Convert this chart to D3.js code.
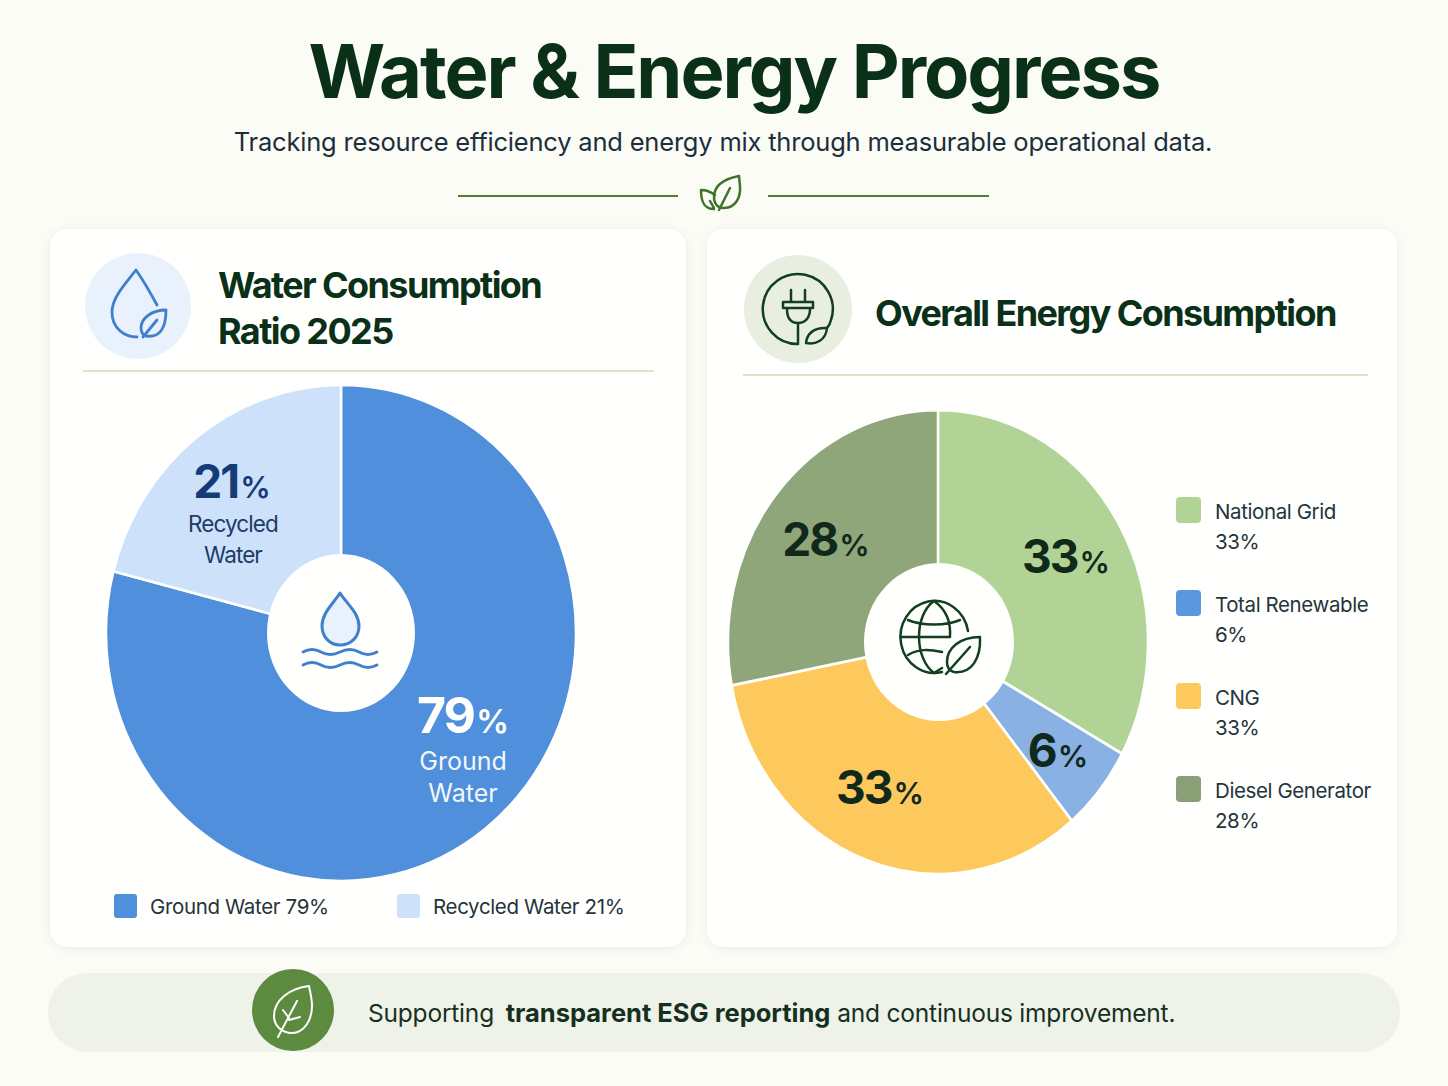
<!DOCTYPE html>
<html>
  <meta charset="utf-8" />
  <style>
    body { margin: 0; background: #fcfcf7; }
    svg { display: block; font-family: Inter, sans-serif; }
    .card { filter: drop-shadow(0 1px 5px rgba(60, 70, 50, 0.09)); }
  </style>
  <svg width="1448" height="1086"></svg>
  <script src="https://d3js.org/d3.v7.min.js"></script>
  <script>
    const titleText = "Water & Energy Progress";
    const subtitleText = "Tracking resource efficiency and energy mix through measurable operational data.";

    const waterCategories = ["Ground Water", "Recycled Water"];
    const waterValues = [79, 21];
    const waterColors = ["#4f8fdb", "#cde2fa"];
    const waterLegendColors = ["#4f8fdb", "#cde2fa"];

    const energyCategories = ["National Grid", "Total Renewable", "CNG", "Diesel Generator"];
    const energyValues = [33, 6, 33, 28];
    const energyColors = ["#b2d396", "#8ab1e4", "#fdc95d", "#8fa57a"];
    const energyLegendColors = ["#b2d396", "#5b97dd", "#fdc95d", "#8a9f75"];

    const darkGreen = "#0a3018";
    const midGreen = "#4f7f35";
    const svg = d3.select("svg");

    // background panels
    const panels = [
      { x: 50, y: 229, w: 636, h: 718 },
      { x: 707, y: 229, w: 690, h: 718 },
    ];
    svg.selectAll("rect.card").data(panels).join("rect")
      .attr("class", "card")
      .attr("x", d => d.x).attr("y", d => d.y)
      .attr("width", d => d.w).attr("height", d => d.h)
      .attr("rx", 17).attr("fill", "#fffffd");
    svg.append("rect").attr("x", 48).attr("y", 973).attr("width", 1352).attr("height", 79)
      .attr("rx", 39).attr("fill", "#eef2e8");

    // heading
    svg.append("text").attr("x", 734).attr("y", 98).attr("text-anchor", "middle")
      .attr("font-size", 74).attr("font-weight", 700).attr("letter-spacing", -2)
      .attr("fill", darkGreen).text(titleText);
    svg.append("text").attr("x", 723).attr("y", 151).attr("text-anchor", "middle")
      .attr("font-size", 25.5).attr("letter-spacing", -0.2).attr("fill", "#1c2e3a").text(subtitleText);

    function line(x1, x2, y, color, width) {
      svg.append("line").attr("x1", x1).attr("x2", x2).attr("y1", y).attr("y2", y)
        .attr("stroke", color).attr("stroke-width", width);
    }
    function icon(d, color, width, fill) {
      return svg.append("path").attr("d", d).attr("fill", fill || "none")
        .attr("stroke", color).attr("stroke-width", width)
        .attr("stroke-linecap", "round").attr("stroke-linejoin", "round");
    }
    line(458, 678, 196, midGreen, 2);
    line(768, 989, 196, midGreen, 2);
    icon("M739,176 C724,179 714,186 714,197 C714,204 718,208 724,208 C735,208 741,198 740,186 Z M730,188 L719,210", "#3f7327", 2.5);
    icon("M701,190 C701,200 703,209 714,209 M701,190 C707,190 711,192 715,195 M710,201 L714,208", "#3f7327", 2.5);

    // card headers
    svg.append("circle").attr("cx", 138).attr("cy", 306).attr("r", 53).attr("fill", "#e9f2fc");
    svg.append("circle").attr("cx", 798).attr("cy", 309).attr("r", 54).attr("fill", "#e8efe1");
    line(83, 654, 371, "#c8dfb8", 1.5);
    line(743, 1368, 375, "#c8dfb8", 1.5);

    const headings = [
      { text: "Water Consumption", x: 218, y: 298 },
      { text: "Ratio 2025", x: 218, y: 344 },
      { text: "Overall Energy Consumption", x: 875, y: 326 },
    ];
    svg.selectAll("text.head").data(headings).join("text")
      .attr("class", "head").attr("x", d => d.x).attr("y", d => d.y)
      .attr("font-size", 36).attr("font-weight", 700).attr("letter-spacing", -1.6)
      .attr("fill", darkGreen).text(d => d.text);

    const blue = "#3f7fcb";
    icon("M157,305 C150,292 143,280 136,270 C125,284 112,298 112,312 C112,328 124,337 137,337", blue, 2.8);
    icon("M166,310 C152,310 141,318 141,328 C141,332 143,335 146,336 C160,338 166,328 166,310 Z M143,337 L157,320", blue, 2.8);

    icon("M798,344 A35,35 0 1 1 831,320 C830,324 829,326 827,328", "#123f1f", 2.5);
    icon("M791,290 L791,302 M805,290 L805,302 M783,302 L813,302 L813,308 L783,308 Z M787,309 C787,318 791,323 798,323 C805,323 810,318 810,309 M798,323 L798,343", "#123f1f", 2.5);
    icon("M827,328 C815,327 807,333 806,343 C816,345 826,340 827,328 Z", "#123f1f", 2.5);

    // pies, slightly taller than wide like the reference
    function drawPie(cx, cy, rx, ry, values, colors) {
      const arcs = d3.pie().sort(null)(values);
      const arc = d3.arc().innerRadius(0).outerRadius(rx);
      const g = svg.append("g").attr("transform", `translate(${cx},${cy}) scale(1,${ry / rx})`);
      g.selectAll("path").data(arcs).join("path")
        .attr("d", arc).attr("fill", (d, i) => colors[i])
        .attr("stroke", "#fffffd").attr("stroke-width", 2.5);
    }
    drawPie(341, 633, 235, 248, waterValues, waterColors);
    drawPie(938, 642, 210, 232, energyValues, energyColors);
    svg.append("ellipse").attr("cx", 341).attr("cy", 633).attr("rx", 74).attr("ry", 79).attr("fill", "#fffffd");
    svg.append("ellipse").attr("cx", 939).attr("cy", 642).attr("rx", 75).attr("ry", 79).attr("fill", "#fffffd");

    // icons in the holes
    icon("M340,593 C333,604 322,613 322,626 C322,637 330,645 340,645 C351,645 359,637 359,626 C359,613 347,604 340,593 Z", blue, 3, "#e8f1fc");
    icon("M303,652 Q312,647 321,652 T340,652 T359,652 T377,652 M303,665 Q312,660 321,665 T340,665 T359,665 T377,665", blue, 2.8);

    const globe = "#123f1f";
    icon("M968,631 A34,36 0 1 0 942,672", globe, 2.5);
    icon("M934,601 C914,615 914,658 934,673 M934,601 C947,610 951,622 950,637 M901,637 L950,637 M908,620 C922,626 946,626 960,620 M908,655 C918,649 928,649 942,652 M934,673 L942,668", globe, 2.5);
    icon("M980,637 C960,637 947,648 947,662 C947,668 950,671 954,672 C972,674 981,658 980,637 Z M946,674 L970,647", globe, 2.5);

    // labels on the slices: big number with a smaller percent sign
    function pctLabel(x, y, value, color, size) {
      const t = svg.append("text").attr("x", x).attr("y", y).attr("text-anchor", "middle")
        .attr("fill", color).attr("font-weight", 700).attr("font-size", size);
      t.append("tspan").attr("letter-spacing", -2).text(value);
      t.append("tspan").attr("dx", 2).attr("font-size", size * 0.66).attr("font-weight", 600).text("%");
    }
    function smallLabel(x, y, text, color, size, spacing) {
      svg.append("text").attr("x", x).attr("y", y).attr("text-anchor", "middle")
        .attr("fill", color).attr("font-size", size).attr("letter-spacing", spacing).text(text);
    }
    pctLabel(232, 498, waterValues[1], "#143b78", 46);
    smallLabel(233, 532, "Recycled", "#1c3c68", 22.5, -0.9);
    smallLabel(233, 563, "Water", "#1c3c68", 22.5, -0.9);
    pctLabel(463, 733, waterValues[0], "#ffffff", 50);
    smallLabel(463, 770, "Ground", "#f2f7fd", 25, 0);
    smallLabel(463, 802, "Water", "#f2f7fd", 25, 0);

    const energyLabelPos = [[1066, 573], [1058, 767], [880, 804], [826, 556]];
    energyValues.forEach((v, i) => {
      pctLabel(energyLabelPos[i][0], energyLabelPos[i][1], v, "#10291a", 46);
    });

    // legends
    const waterLegend = svg.append("g").selectAll("g").data(waterCategories).join("g")
      .attr("transform", (d, i) => `translate(${[114, 397][i]},894)`);
    waterLegend.append("rect").attr("width", 23).attr("height", 24).attr("rx", 3)
      .attr("fill", (d, i) => waterLegendColors[i]);
    waterLegend.append("text").attr("x", 36).attr("y", 20).attr("font-size", 20.5).attr("letter-spacing", -0.35)
      .attr("fill", "#24343c").text((d, i) => `${d} ${waterValues[i]}%`);

    const energyLegendY = d3.scalePoint().domain(energyCategories).range([497, 776]);
    const energyLegend = svg.append("g").selectAll("g").data(energyCategories).join("g")
      .attr("transform", d => `translate(1176,${energyLegendY(d)})`);
    energyLegend.append("rect").attr("width", 25).attr("height", 26).attr("rx", 4)
      .attr("fill", (d, i) => energyLegendColors[i]);
    energyLegend.append("text").attr("x", 39).attr("y", 22).attr("font-size", 20.5).attr("letter-spacing", -0.4)
      .attr("fill", "#24343c").text(d => d);
    energyLegend.append("text").attr("x", 39).attr("y", 52).attr("font-size", 20.5).attr("letter-spacing", -0.4)
      .attr("fill", "#24343c").text((d, i) => energyValues[i] + "%");

    // footer strip
    svg.append("circle").attr("cx", 293).attr("cy", 1010).attr("r", 41).attr("fill", "#5c8a3f");
    icon("M309,986 C290,988 274,1000 274,1016 C274,1026 282,1033 292,1033 C304,1033 312,1020 312,1006 C312,998 310,992 309,986 Z M278,1037 L297,1001 M283,1010 L289,1018 M300,1017 L289,1020", "#ffffff", 2);
    const foot = svg.append("text").attr("x", 368).attr("y", 1022).attr("font-size", 24.5).attr("fill", "#16301f");
    foot.append("tspan").attr("letter-spacing", -0.2).text("Supporting ");
    foot.append("tspan").attr("font-weight", 700).attr("font-size", 25.5).attr("dx", 5).text("transparent ESG reporting");
    foot.append("tspan").attr("letter-spacing", -0.2).text(" and continuous improvement.");
  </script>
</html>
